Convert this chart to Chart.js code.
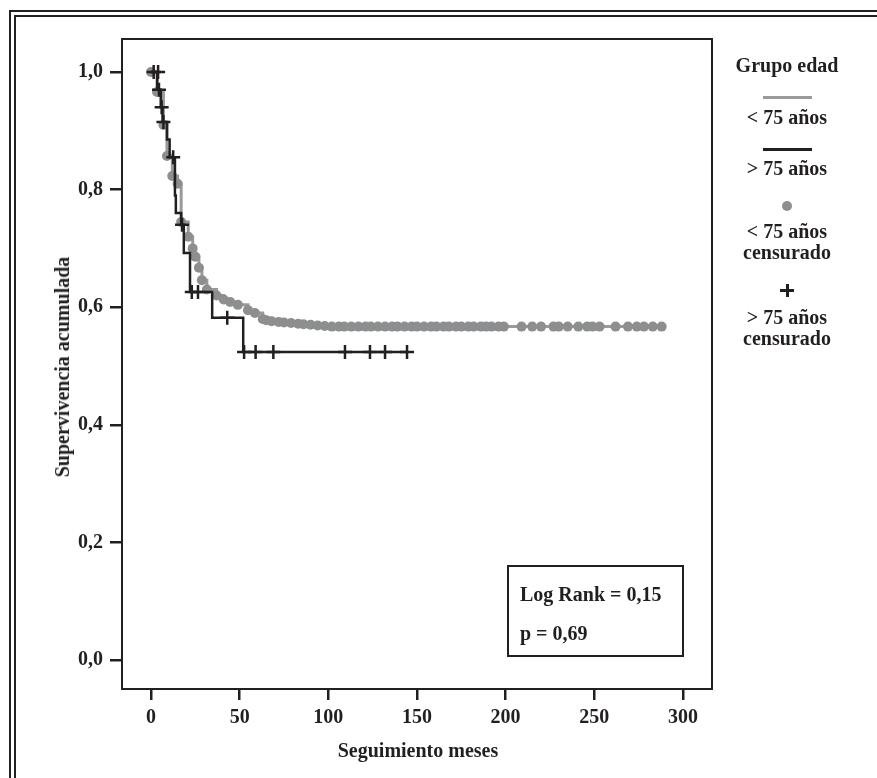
<!DOCTYPE html>
<html>
<head>
<meta charset="utf-8">
<script src="https://cdn.jsdelivr.net/npm/chart.js@4.4.1/dist/chart.umd.min.js"></script>
<style>
  body { margin: 0; width: 877px; height: 778px; overflow: hidden; background: #fff; position: relative;
         font-family: 'Liberation Serif', 'Times New Roman', serif; font-weight: bold; color: #231f20; }
  #km { position: absolute; left: 0; top: 0; }
  .txt { position: absolute; font-size: 20px; line-height: 20px; white-space: nowrap; }
  .leg { position: absolute; left: 712px; width: 150px; text-align: center; font-size: 20px; line-height: 20px; }
  .bar { position: absolute; background: #231f20; }
</style>
</head>
<body>
<div style="position:absolute; left:9px; top:10px; width:1000px; height:1000px; border-left:7px double #231f20; border-top:7px double #231f20;"></div>
<canvas id="km" width="877" height="778"></canvas>

<!-- axis titles -->
<div class="txt" style="left:62px; top:367px; transform:translate(-50%,-50%) rotate(-90deg);">Supervivencia acumulada</div>
<div class="txt" style="left:418px; top:740px; transform:translateX(-50%);">Seguimiento meses</div>

<!-- legend -->
<div class="leg" style="top:55px;">Grupo edad</div>
<div class="bar" style="left:763px; top:96px; width:49px; height:3px; background:#9a9a9a;"></div>
<div class="leg" style="top:107px;">&lt; 75 años</div>
<div class="bar" style="left:763px; top:148px; width:49px; height:3px;"></div>
<div class="leg" style="top:158px;">&gt; 75 años</div>
<div class="bar" style="left:782px; top:201px; width:10px; height:10px; border-radius:50%; background:#8d8e90;"></div>
<div class="leg" style="top:221px;">&lt; 75 años</div>
<div class="leg" style="top:242px;">censurado</div>
<div class="bar" style="left:780px; top:289px; width:14px; height:3px;"></div>
<div class="bar" style="left:786px; top:284px; width:3px; height:13px;"></div>
<div class="leg" style="top:307px;">&gt; 75 años</div>
<div class="leg" style="top:328px;">censurado</div>

<!-- log rank box -->
<div style="position:absolute; left:507px; top:565px; width:177px; height:92px; box-sizing:border-box; border:2px solid #231f20;"></div>
<div class="txt" style="left:520px; top:584px;">Log Rank = 0,15</div>
<div class="txt" style="left:520px; top:623px;">p = 0,69</div>

<script>
// tick values
const xTicks = [0, 50, 100, 150, 200, 250, 300];
const yTicks = [0, 0.2, 0.4, 0.6, 0.8, 1.0];

// < 75 años : censored observations (the step curve runs through them)
const grayT = [0, 3.4, 7, 9, 12, 15, 17, 21, 23.5, 25, 27, 28.7, 31.5, 37, 41, 44.6, 49, 54.7, 58.6, 63,
  65, 68, 72, 75, 79, 83, 86, 90, 94, 98,
  102, 106, 109, 113, 117, 121, 124, 128, 132, 136, 139, 143, 147, 150, 154, 158, 161, 165, 168, 172,
  175, 179, 182, 186, 189, 192, 196, 199, 209, 215, 220, 227, 230, 235, 241, 246, 249, 253,
  262, 269, 274, 278, 283, 288];
const grayS = [1.0, 0.966, 0.91, 0.857, 0.823, 0.81, 0.745, 0.72, 0.70, 0.686, 0.667, 0.646, 0.63, 0.62, 0.613, 0.609, 0.604, 0.595, 0.59, 0.58,
  0.578, 0.576, 0.575, 0.574, 0.573, 0.572, 0.571, 0.570, 0.569, 0.568,
  0.567, 0.567, 0.567, 0.567, 0.567, 0.567, 0.567, 0.567, 0.567, 0.567, 0.567, 0.567, 0.567, 0.567, 0.567, 0.567, 0.567, 0.567, 0.567, 0.567,
  0.567, 0.567, 0.567, 0.567, 0.567, 0.567, 0.567, 0.567, 0.567, 0.567, 0.567, 0.567, 0.567, 0.567, 0.567, 0.567, 0.567, 0.567,
  0.567, 0.567, 0.567, 0.567, 0.567, 0.567];

// > 75 años : event steps
const blackT = [0, 3.5, 5.5, 6.5, 9, 10.5, 13.5, 14, 17, 18.5, 22, 34.5, 52, 144.4];
const blackS = [1.0, 0.97, 0.94, 0.915, 0.885, 0.855, 0.79, 0.76, 0.74, 0.692, 0.626, 0.582, 0.524, 0.524];
// > 75 años : censored
const blackCensT = [1.5, 4, 4.5, 6, 7, 12.5, 17.5, 23, 26.5, 43, 52.5, 59, 69, 109.4, 123.5, 132, 144.4];
const blackCensS = [1.0, 1.0, 0.97, 0.94, 0.915, 0.855, 0.74, 0.626, 0.626, 0.582, 0.524, 0.524, 0.524, 0.524, 0.524, 0.524, 0.524];

const INK = '#231f20';
const pts = (t, s) => t.map((v, i) => ({ x: v, y: s[i] }));
const font = { family: "'Liberation Serif', 'Times New Roman', serif", size: 20, weight: 'bold' };

const framePlugin = {
  id: 'frame',
  beforeDatasetsDraw(chart) {
    const a = chart.chartArea, c = chart.ctx;
    c.save();
    c.strokeStyle = INK;
    c.lineWidth = 2;
    c.strokeRect(a.left, a.top, a.right - a.left, a.bottom - a.top);
    c.restore();
  }
};

new Chart(document.getElementById('km'), {
  type: 'scatter',
  data: {
    datasets: [
      { data: pts(blackCensT, blackCensS), pointStyle: 'cross', radius: 7, borderColor: INK, borderWidth: 2.5, showLine: false },
      { data: pts(blackT, blackS), showLine: true, stepped: 'before', borderColor: INK, borderWidth: 2.5, pointRadius: 0 },
      { data: pts(grayT, grayS), pointStyle: 'circle', radius: 5, backgroundColor: '#8d8e90', borderWidth: 0, showLine: false },
      { data: pts(grayT, grayS), showLine: true, stepped: 'before', borderColor: '#9a9a9a', borderWidth: 3, pointRadius: 0 }
    ]
  },
  options: {
    responsive: false,
    animation: false,
    devicePixelRatio: 1,
    layout: { padding: { left: 0, top: 39, right: 165, bottom: 0 } },
    plugins: { legend: { display: false }, tooltip: { enabled: false } },
    scales: {
      x: {
        type: 'linear', min: -16.36, max: 316.4,
        afterBuildTicks: s => { s.ticks = xTicks.map(v => ({ value: v })); },
        afterFit: s => { s.height = 89; },
        border: { display: false },
        grid: { drawOnChartArea: false, drawTicks: true, tickLength: 11, color: INK, lineWidth: 2.5 },
        ticks: { font, color: INK, padding: 6, maxRotation: 0 }
      },
      y: {
        type: 'linear', min: -0.0493, max: 1.0561,
        afterBuildTicks: s => { s.ticks = yTicks.map(v => ({ value: v })); },
        afterFit: s => { s.width = 122; },
        border: { display: false },
        grid: { drawOnChartArea: false, drawTicks: true, tickLength: 12, color: INK, lineWidth: 2.5 },
        ticks: { font, color: INK, padding: 7, callback: v => v.toFixed(1).replace('.', ',') }
      }
    }
  },
  plugins: [framePlugin]
});
</script>
</body>
</html>
